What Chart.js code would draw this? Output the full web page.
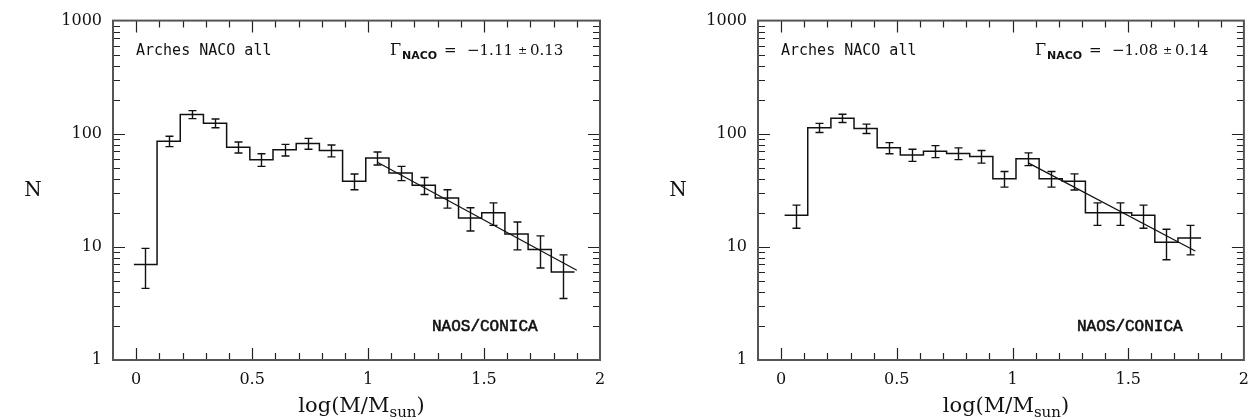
<!DOCTYPE html>
<html>
<head>
<meta charset="utf-8">
<script src="https://cdn.jsdelivr.net/npm/chart.js@4"></script>
<style>
  html, body { margin: 0; padding: 0; background: #fff; }
  #wrap { position: relative; width: 1259px; height: 420px; overflow: hidden; }
  .panel { position: absolute; top: 0; height: 420px; }
</style>
</head>
<body>
<div id="wrap">
  <div class="panel" style="left:0;width:645px"><canvas id="panelA" width="645" height="420"></canvas></div>
  <div class="panel" style="left:645px;width:614px"><canvas id="panelB" width="614" height="420"></canvas></div>
</div>
<script>
// Histogram bin width in log(M/Msun)
const BIN_WIDTH = 0.1;

// Left panel: mass function, all stars
const leftCenters = [0.04, 0.14, 0.24, 0.34, 0.44, 0.54, 0.64, 0.74, 0.84, 0.94,
                     1.04, 1.14, 1.24, 1.34, 1.44, 1.54, 1.64, 1.74, 1.84];
const leftCounts  = [7, 86, 148, 124, 76, 59, 72, 82, 71, 38,
                     61, 45, 35, 27, 18, 20, 13, 9.5, 6];
const leftErrors  = [2.7, 9, 12, 11, 8.5, 7.5, 8.5, 9, 8.5, 6,
                     8, 6.5, 6, 5, 4.2, 4.5, 3.6, 3, 2.5];
const leftFit     = { x0: 1.04, n0: 56, x1: 1.90 };
const leftGamma   = "\u22121.11";
const leftGammaErr = "0.13";
const leftSlope   = -1.11;

// Right panel
const rightCenters = [0.065, 0.165, 0.265, 0.365, 0.465, 0.565, 0.665, 0.765, 0.865,
                      0.965, 1.065, 1.165, 1.265, 1.365, 1.465, 1.565, 1.665, 1.765];
const rightCounts  = [19, 113, 137, 111, 75, 65, 70, 67, 63,
                      40, 60, 40, 38, 20, 20, 19, 11, 12];
const rightErrors  = [4.4, 10.5, 11.5, 10.5, 8.5, 8, 8.5, 8, 8,
                      6.3, 7.7, 6.3, 6.2, 4.5, 4.5, 4.4, 3.3, 3.5];
const rightFit     = { x0: 1.07, n0: 55, x1: 1.79 };
const rightGamma   = "\u22121.08";
const rightGammaErr = "0.14";
const rightSlope   = -1.08;

// Axis ticks
const xTickValues = [0, 0.5, 1, 1.5, 2];
const yTickValues = [1, 10, 100, 1000];
const xMin = -0.1, xMax = 2.0;
const yMin = 1, yMax = 1000;

const INK = '#111';
const SERIF = '"DejaVu Serif", "Liberation Serif", serif';

function stepPoints(centers, counts) {
  const pts = [];
  centers.forEach((c, i) => {
    pts.push({ x: c - BIN_WIDTH / 2, y: counts[i] });
    pts.push({ x: c + BIN_WIDTH / 2, y: counts[i] });
  });
  return pts;
}

function fitPoints(fit, slope) {
  return [
    { x: fit.x0, y: fit.n0 },
    { x: fit.x1, y: fit.n0 * Math.pow(10, slope * (fit.x1 - fit.x0)) }
  ];
}

// Frame, inward ticks, error bars and annotations
function decor(panel) {
  return {
    id: 'decor',
    afterDatasetsDraw(chart) {
      const { ctx, chartArea: a, scales: { x, y } } = chart;
      ctx.save();

      // error bars with caps
      ctx.strokeStyle = INK;
      ctx.lineWidth = 1.4;
      panel.centers.forEach((c, i) => {
        const px = Math.round(x.getPixelForValue(c)) + 0.5;
        const lo = y.getPixelForValue(panel.counts[i] - panel.errors[i]);
        const hi = y.getPixelForValue(panel.counts[i] + panel.errors[i]);
        ctx.beginPath();
        ctx.moveTo(px, lo); ctx.lineTo(px, hi);
        ctx.moveTo(px - 4, lo); ctx.lineTo(px + 4, lo);
        ctx.moveTo(px - 4, hi); ctx.lineTo(px + 4, hi);
        ctx.stroke();
      });

      // inward ticks on all four sides
      ctx.strokeStyle = '#222';
      ctx.lineWidth = 1.2;
      ctx.beginPath();
      for (let k = 0; k < 20; k++) {
        const v = k / 10;
        const px = Math.round(x.getPixelForValue(v)) + 0.5;
        const len = (k % 5 === 0) ? 12 : 7;
        ctx.moveTo(px, a.bottom); ctx.lineTo(px, a.bottom - len);
        ctx.moveTo(px, a.top); ctx.lineTo(px, a.top + len);
      }
      for (let d = 1; d < 1000; d *= 10) {
        for (let m = 1; m <= 9; m++) {
          const v = d * m;
          if (v <= yMin || v >= yMax) continue;
          const py = Math.round(y.getPixelForValue(v)) + 0.5;
          const len = (m === 1) ? 12 : 7;
          ctx.moveTo(a.left, py); ctx.lineTo(a.left + len, py);
          ctx.moveTo(a.right, py); ctx.lineTo(a.right - len, py);
        }
      }
      ctx.stroke();

      // frame
      ctx.strokeStyle = '#555';
      ctx.lineWidth = 2;
      ctx.strokeRect(a.left, a.top, a.right - a.left, a.bottom - a.top);

      // annotations
      ctx.fillStyle = INK;
      ctx.textAlign = 'left';
      ctx.textBaseline = 'alphabetic';
      ctx.font = '15px "DejaVu Sans Mono", monospace';
      ctx.fillText('Arches NACO all', a.left + 23, 55);

      const gx = a.left + 277;
      ctx.font = '16px ' + SERIF;
      ctx.fillText('\u0393', gx, 55);
      ctx.font = 'bold 11px "DejaVu Sans", sans-serif';
      ctx.fillText('NACO', gx + 12, 59);
      ctx.font = '15px ' + SERIF;
      ctx.fillText('=', gx + 54, 55);
      ctx.fillText(panel.gamma, gx + 77, 55);
      ctx.font = '11px ' + SERIF;
      ctx.fillText('\u00b1', gx + 128, 54);
      ctx.font = '15px ' + SERIF;
      ctx.fillText(panel.gammaErr, gx + 140, 55);

      ctx.font = '16px "Liberation Mono", monospace';
      ctx.strokeStyle = INK;
      ctx.lineWidth = 0.6;
      ctx.fillText('NAOS/CONICA', a.left + 319, 331);
      ctx.strokeText('NAOS/CONICA', a.left + 319, 331);

      // axis titles
      ctx.font = '20px ' + SERIF;
      ctx.textAlign = 'center';
      ctx.textBaseline = 'middle';
      ctx.fillText('N', 33, (a.top + a.bottom) / 2);

      ctx.textAlign = 'left';
      ctx.textBaseline = 'alphabetic';
      const mainFont = '21px ' + SERIF, subFont = '15px ' + SERIF;
      ctx.font = mainFont; const w1 = ctx.measureText('log(M/M').width;
      ctx.font = subFont;  const w2 = ctx.measureText('sun').width;
      ctx.font = mainFont; const w3 = ctx.measureText(')').width;
      let tx = (a.left + a.right) / 2 + 5 - (w1 + w2 + w3) / 2;
      ctx.font = mainFont; ctx.fillText('log(M/M', tx, 412); tx += w1;
      ctx.font = subFont;  ctx.fillText('sun', tx, 417); tx += w2;
      ctx.font = mainFont; ctx.fillText(')', tx, 412);

      ctx.restore();
    }
  };
}

function makeChart(id, panel, rightPad) {
  return new Chart(document.getElementById(id), {
    type: 'line',
    data: {
      datasets: [
        {
          data: stepPoints(panel.centers, panel.counts),
          borderColor: INK, borderWidth: 1.5, pointRadius: 0, tension: 0, fill: false
        },
        {
          data: fitPoints(panel.fit, panel.slope),
          borderColor: INK, borderWidth: 1.2, pointRadius: 0, tension: 0, fill: false
        }
      ]
    },
    options: {
      responsive: false,
      animation: false,
      devicePixelRatio: 1,
      layout: { padding: { left: 0, top: 13, right: rightPad, bottom: 0 } },
      plugins: { legend: { display: false }, tooltip: { enabled: false } },
      scales: {
        x: {
          type: 'linear', min: xMin, max: xMax,
          afterBuildTicks: s => { s.ticks = xTickValues.map(v => ({ value: v })); },
          afterFit: s => { s.height = 60; },
          grid: { display: false, drawTicks: false },
          border: { display: false },
          ticks: {
            color: INK, padding: 10, maxRotation: 0, autoSkip: false,
            font: { family: SERIF, size: 16 },
            callback: v => String(v)
          }
        },
        y: {
          type: 'logarithmic', min: yMin, max: yMax,
          afterBuildTicks: s => { s.ticks = yTickValues.map(v => ({ value: v })); },
          afterFit: s => { s.width = 113; },
          grid: { display: false, drawTicks: false },
          border: { display: false },
          ticks: {
            color: INK, padding: 11, autoSkip: false,
            font: { family: SERIF, size: 16 },
            callback: v => String(v)
          }
        }
      }
    },
    plugins: [decor(panel)]
  });
}

makeChart('panelA', {
  centers: leftCenters, counts: leftCounts, errors: leftErrors,
  fit: leftFit, slope: leftSlope, gamma: leftGamma, gammaErr: leftGammaErr
}, 45);

makeChart('panelB', {
  centers: rightCenters, counts: rightCounts, errors: rightErrors,
  fit: rightFit, slope: rightSlope, gamma: rightGamma, gammaErr: rightGammaErr
}, 15);
</script>
</body>
</html>
